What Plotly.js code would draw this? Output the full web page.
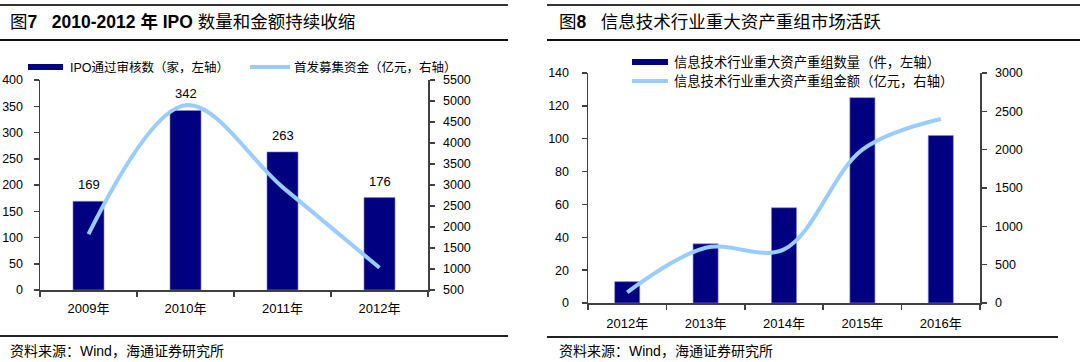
<!DOCTYPE html>
<html><head><meta charset="utf-8">
<script src="https://cdn.plot.ly/plotly-3.0.1.min.js"></script>
<style>html,body{margin:0;padding:0;background:#fff;}#c{width:1080px;height:362px;}</style>
</head><body><div id="c"></div>
<script>
// Panel 1 data
const years1 = ['2009年','2010年','2011年','2012年'];
const ipoCount = [169, 342, 263, 176];
const ipoFunds = [1830, 4900, 2950, 1030];
// Panel 2 data
const years2 = ['2012年','2013年','2014年','2015年','2016年'];
const mnaCount = [13, 36, 58, 125, 102];
const mnaAmount = [140, 720, 700, 2000, 2400];

const W = 1080, H = 362;
const px = v => v / W, py = v => 1 - v / H;
const FONT = 'Liberation Sans, Arial, Noto Sans CJK SC, sans-serif';
const CJK = 'Liberation Sans, Noto Sans CJK SC, sans-serif';
const NAVY = '#000080', LB = '#99CCFF', AX = '#404040';

const traces = [
  {type:'bar', x:years1, y:ipoCount, xaxis:'x', yaxis:'y', width:0.32,
   marker:{color:NAVY, line:{color:'#8888dd', width:0.6}}, hoverinfo:'none'},
  {type:'scatter', mode:'lines', x:years1, y:ipoFunds, xaxis:'x', yaxis:'y2',
   line:{color:LB, width:4, shape:'spline', smoothing:1}, hoverinfo:'none'},
  {type:'bar', x:years2, y:mnaCount, xaxis:'x2', yaxis:'y3', width:0.32,
   marker:{color:NAVY, line:{color:'#8888dd', width:0.6}}, hoverinfo:'none'},
  {type:'scatter', mode:'lines', x:years2, y:mnaAmount, xaxis:'x2', yaxis:'y4',
   line:{color:LB, width:4, shape:'spline', smoothing:1}, hoverinfo:'none'}
];

const axY = (extra) => Object.assign({
  showgrid:false, zeroline:false, showline:true, linecolor:AX, linewidth:1.5,
  ticks:'outside', ticklen:5, tickcolor:AX, tickwidth:1.5,
  tickfont:{family:FONT, size:12.5, color:'#000'}, fixedrange:true
}, extra);
const axX = (extra) => Object.assign({
  type:'category', showgrid:false, zeroline:false, showline:true, linecolor:AX, linewidth:1.5,
  ticks:'outside', ticklen:5, tickcolor:AX, tickwidth:1.5, tickson:'boundaries',
  ticklabelstandoff:6,
  tickfont:{family:CJK, size:13, color:'#000'}, fixedrange:true
}, extra);

const annotations = [];
const shapes = [];
// headers
function hline(x0,x1,y,w,c){shapes.push({type:'line',xref:'paper',yref:'paper',x0:px(x0),x1:px(x1),y0:py(y),y1:py(y),line:{color:c,width:w}});}
hline(0,508,5,2,'#333'); hline(0,508,40,2,'#111'); hline(0,508,336,2,'#222');
hline(547,1080,5,2,'#333'); hline(547,1080,40,2,'#111'); hline(547,1058,337,2,'#222');
function txt(x,y,t,size,anchor){annotations.push({xref:'paper',yref:'paper',x:px(x),y:py(y),text:t,showarrow:false,xanchor:anchor||'left',yanchor:'middle',font:{family:CJK,size:size,color:'#000'}});}
txt(8,22,'图<b>7</b>   <b>2010-2012 年 IPO</b> 数量和金额持续收缩',17.5);
txt(557,22,'图<b>8</b>   信息技术行业重大资产重组市场活跃',17.5);
txt(8,351,'资料来源：Wind，海通证券研究所',14);
txt(557,351,'资料来源：Wind，海通证券研究所',14);
// legends (manual)
shapes.push({type:'rect',xref:'paper',yref:'paper',x0:px(28),x1:px(63),y0:py(64),y1:py(70),fillcolor:NAVY,line:{width:0}});
txt(68,67,'IPO通过审核数（家，左轴）',12.5);
hline(250,290,67,4,LB);
txt(292,67,'首发募集资金（亿元，右轴）',12.5);
shapes.push({type:'rect',xref:'paper',yref:'paper',x0:px(632),x1:px(668),y0:py(59),y1:py(65),fillcolor:NAVY,line:{width:0}});
txt(672,62,'信息技术行业重大资产重组数量（件，左轴）',13.3);
hline(632,668,81,4,LB);
txt(672,81,'信息技术行业重大资产重组金额（亿元，右轴）',13.3);
// data labels on panel 1 bars
years1.forEach((c,i)=>annotations.push({xref:'x',yref:'y',x:c,y:ipoCount[i],text:String(ipoCount[i]),showarrow:false,yanchor:'bottom',yshift:7,font:{family:FONT,size:13,color:'#000'}}));

const layout = {
  width:W, height:H, margin:{l:0,r:0,t:0,b:0}, paper_bgcolor:'#fff', plot_bgcolor:'rgba(0,0,0,0)',
  showlegend:false, bargap:0,
  xaxis: axX({domain:[px(40),px(428)], anchor:'y'}),
  yaxis: axY({domain:[py(290),py(80)], range:[0,400], dtick:50, anchor:'x', ticklabelstandoff:8}),
  yaxis2: axY({overlaying:'y', side:'right', anchor:'x', range:[500,5500], dtick:500, ticklabelstandoff:6}),
  xaxis2: axX({domain:[px(588),px(980)], anchor:'y3', ticklabelstandoff:8}),
  yaxis3: axY({domain:[py(303),py(73)], range:[0,140], dtick:20, anchor:'x2', ticklabelstandoff:10}),
  yaxis4: axY({overlaying:'y3', side:'right', anchor:'x2', range:[0,3000], dtick:500, ticklabelstandoff:6}),
  shapes, annotations
};
Plotly.newPlot('c', traces, layout, {displayModeBar:false, staticPlot:true});
</script></body></html>
